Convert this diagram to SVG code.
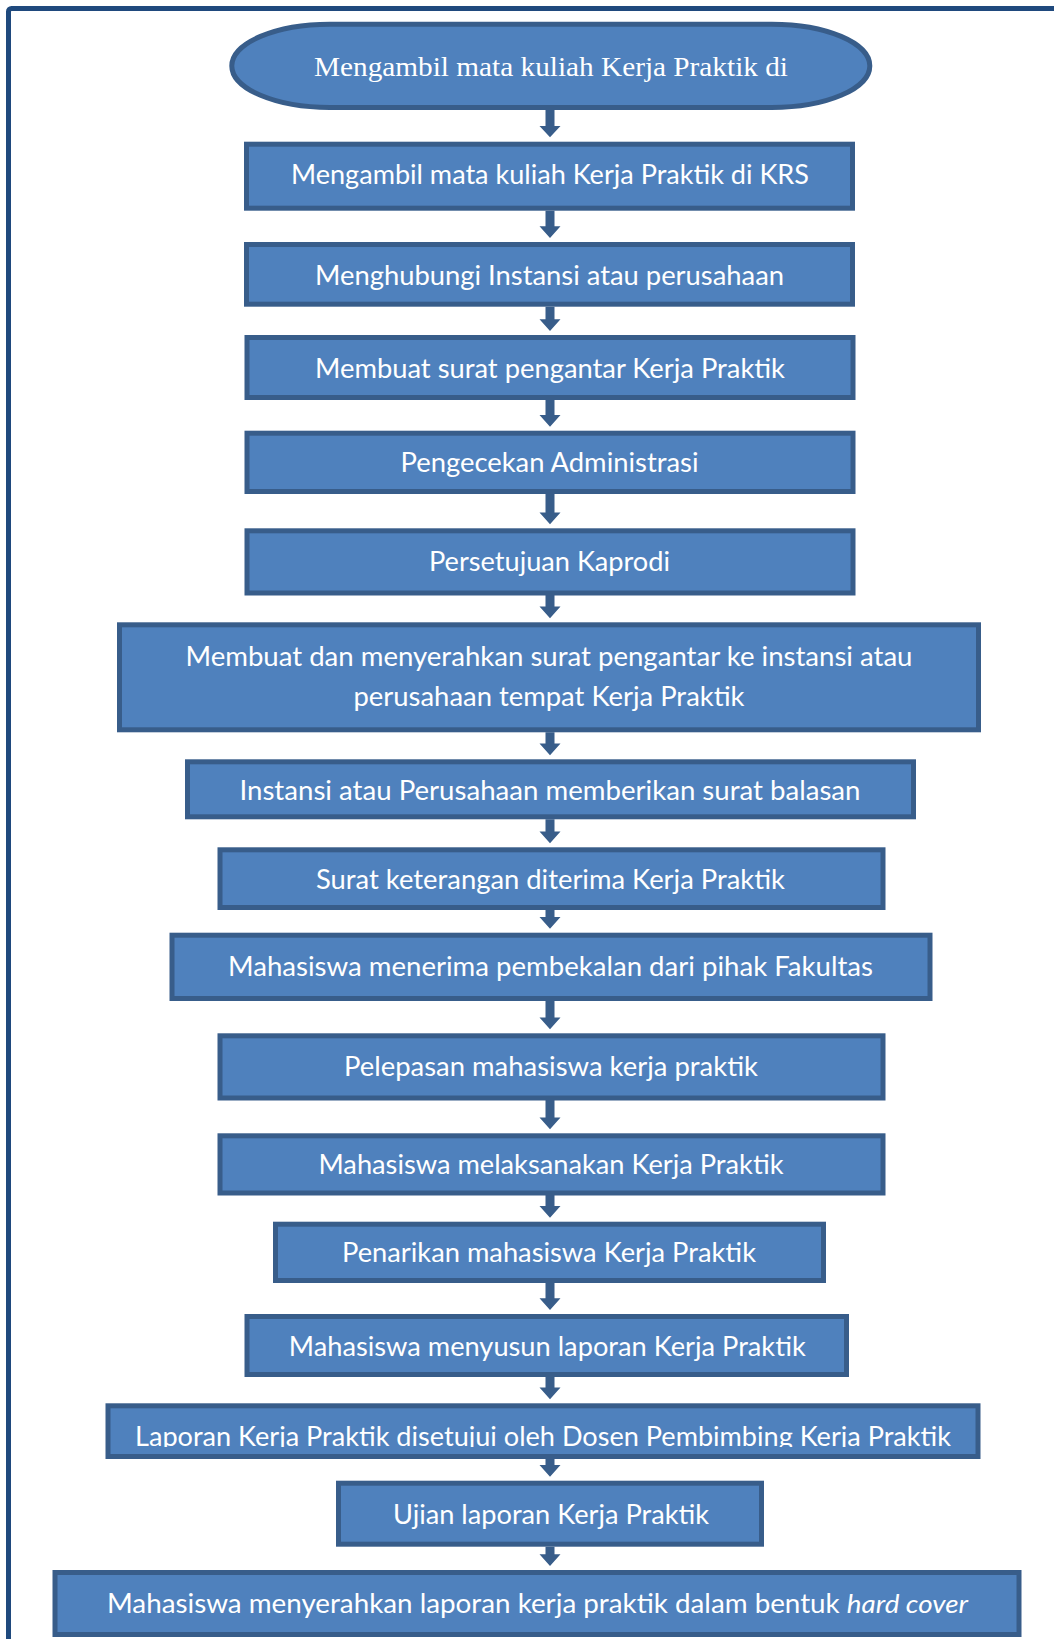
<svg xmlns="http://www.w3.org/2000/svg" width="1054" height="1639" viewBox="0 0 1054 1639">
<style>
.box{fill:#4F81BD;stroke:#385D8A;stroke-width:5}
.lbl{font-family:Lato,"Open Sans",sans-serif;font-size:26px;fill:#FFFFFF;text-anchor:middle}
.ser{font-family:"Liberation Serif","Times New Roman",serif;font-size:28px;fill:#FFFFFF;text-anchor:middle}
.arr{fill:#385D8A}
</style>
<defs>
<clipPath id="clip14"><rect x="108" y="1405" width="870" height="42"/></clipPath>
</defs>
<rect x="0" y="0" width="1054" height="1639" fill="#FFFFFF"/>
<rect x="8.5" y="8.5" width="1100" height="1700" rx="3" fill="none" stroke="#1F497D" stroke-width="5"/>

<g id="connectors" class="arr">
<path d="M545.5 110V126H539.5L550 137.3L560.5 126H554.5V110Z"/>
<path d="M545.5 210.7V226.3H539.5L550 238L560.5 226.3H554.5V210.7Z"/>
<path d="M545.5 306.7V319.3H539.5L550 331L560.5 319.3H554.5V306.7Z"/>
<path d="M545.5 400V415H539.5L550 426.7L560.5 415H554.5V400Z"/>
<path d="M545.5 494V512.6H539.5L550 524.3L560.5 512.6H554.5V494Z"/>
<path d="M545.5 595V606.6H539.5L550 618.3L560.5 606.6H554.5V595Z"/>
<path d="M545.5 732.3V743.6H539.5L550 755.3L560.5 743.6H554.5V732.3Z"/>
<path d="M545.5 819.3V831.6H539.5L550 843.3L560.5 831.6H554.5V819.3Z"/>
<path d="M545.5 910V917H539.5L550 928.7L560.5 917H554.5V910Z"/>
<path d="M545.5 1000V1017.6H539.5L550 1029.3L560.5 1017.6H554.5V1000Z"/>
<path d="M545.5 1100V1117.6H539.5L550 1129.3L560.5 1117.6H554.5V1100Z"/>
<path d="M545.5 1195V1206H539.5L550 1217.7L560.5 1206H554.5V1195Z"/>
<path d="M545.5 1282.7V1298.3H539.5L550 1310L560.5 1298.3H554.5V1282.7Z"/>
<path d="M545.5 1376.7V1387.6H539.5L550 1399.3L560.5 1387.6H554.5V1376.7Z"/>
<path d="M545.5 1459V1465H539.5L550 1476.7L560.5 1465H554.5V1459Z"/>
<path d="M545.5 1546.7V1554.3H539.5L550 1566L560.5 1554.3H554.5V1546.7Z"/>
</g>

<g id="n0">
<rect class="box" x="231.8" y="24.2" width="638" height="83.3" rx="98" ry="41.6"/>
<text class="ser" x="551" y="76" textLength="474" lengthAdjust="spacingAndGlyphs">Mengambil mata kuliah Kerja Praktik di</text>
</g>
<g id="n1">
<rect class="box" x="246.5" y="144.2" width="606" height="64"/>
<text class="lbl" x="550" y="184" textLength="518" lengthAdjust="spacingAndGlyphs">Mengambil mata kuliah Kerja Praktik di KRS</text>
</g>
<g id="n2">
<rect class="box" x="246.5" y="244.5" width="606" height="59.7"/>
<text class="lbl" x="549.5" y="284.5" textLength="469" lengthAdjust="spacingAndGlyphs">Menghubungi Instansi atau perusahaan</text>
</g>
<g id="n3">
<rect class="box" x="247" y="337.5" width="606" height="60"/>
<text class="lbl" x="550" y="378" textLength="470" lengthAdjust="spacingAndGlyphs">Membuat surat pengantar Kerja Praktik</text>
</g>
<g id="n4">
<rect class="box" x="247" y="433.2" width="606" height="58.3"/>
<text class="lbl" x="549.5" y="472" textLength="298" lengthAdjust="spacingAndGlyphs">Pengecekan Administrasi</text>
</g>
<g id="n5">
<rect class="box" x="247" y="530.8" width="606" height="62.2"/>
<text class="lbl" x="549.5" y="571" textLength="241" lengthAdjust="spacingAndGlyphs">Persetujuan Kaprodi</text>
</g>
<g id="n6">
<rect class="box" x="119.5" y="624.8" width="859" height="105"/>
<text class="lbl" x="549" y="665.5" textLength="727" lengthAdjust="spacingAndGlyphs">Membuat dan menyerahkan surat pengantar ke instansi atau</text>
<text class="lbl" x="549" y="705.5" textLength="391" lengthAdjust="spacingAndGlyphs">perusahaan tempat Kerja Praktik</text>
</g>
<g id="n7">
<rect class="box" x="187.5" y="761.8" width="726" height="55"/>
<text class="lbl" x="550" y="799.5" textLength="621" lengthAdjust="spacingAndGlyphs">Instansi atau Perusahaan memberikan surat balasan</text>
</g>
<g id="n8">
<rect class="box" x="220" y="849.8" width="663" height="57.7"/>
<text class="lbl" x="550.5" y="889" textLength="469" lengthAdjust="spacingAndGlyphs">Surat keterangan diterima Kerja Praktik</text>
</g>
<g id="n9">
<rect class="box" x="172" y="935.2" width="758" height="63.3"/>
<text class="lbl" x="550.5" y="976" textLength="645" lengthAdjust="spacingAndGlyphs">Mahasiswa menerima pembekalan dari pihak Fakultas</text>
</g>
<g id="n10">
<rect class="box" x="220" y="1035.8" width="663" height="62.2"/>
<text class="lbl" x="551" y="1076" textLength="414" lengthAdjust="spacingAndGlyphs">Pelepasan mahasiswa kerja praktik</text>
</g>
<g id="n11">
<rect class="box" x="220" y="1135.8" width="663" height="57.2"/>
<text class="lbl" x="551" y="1174" textLength="465" lengthAdjust="spacingAndGlyphs">Mahasiswa melaksanakan Kerja Praktik</text>
</g>
<g id="n12">
<rect class="box" x="275.5" y="1224.2" width="548" height="56.3"/>
<text class="lbl" x="549" y="1262" textLength="414" lengthAdjust="spacingAndGlyphs">Penarikan mahasiswa Kerja Praktik</text>
</g>
<g id="n13">
<rect class="box" x="247" y="1316.5" width="599.5" height="58"/>
<text class="lbl" x="547.3" y="1356" textLength="517" lengthAdjust="spacingAndGlyphs">Mahasiswa menyusun laporan Kerja Praktik</text>
</g>
<g id="n14">
<rect class="box" x="108" y="1405.8" width="870" height="50.7"/>
<text class="lbl" x="543" y="1446" textLength="816" lengthAdjust="spacingAndGlyphs" clip-path="url(#clip14)">Laporan Kerja Praktik disetujui oleh Dosen Pembimbing Kerja Praktik</text>
</g>
<g id="n15">
<rect class="box" x="338.5" y="1483.2" width="423" height="61"/>
<text class="lbl" x="551" y="1523.5" textLength="316" lengthAdjust="spacingAndGlyphs">Ujian laporan Kerja Praktik</text>
</g>
<g id="n16">
<rect class="box" x="55" y="1572.5" width="964" height="62"/>
<text class="lbl" x="537.5" y="1613" textLength="861" lengthAdjust="spacingAndGlyphs">Mahasiswa menyerahkan laporan kerja praktik dalam bentuk <tspan font-style="italic">hard cover</tspan></text>
</g>
</svg>
